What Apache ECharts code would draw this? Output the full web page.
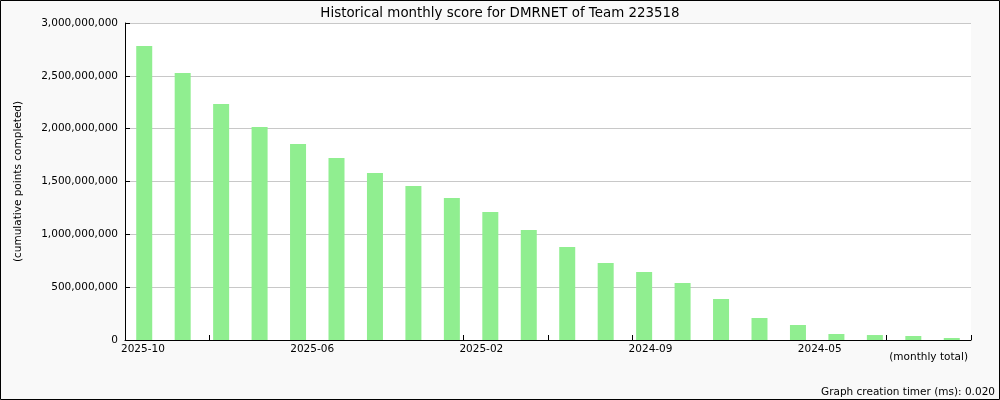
<!DOCTYPE html>
<html>
<head>
<meta charset="utf-8">
<script src="https://cdn.jsdelivr.net/npm/echarts@6/dist/echarts.min.js"></script>
<style>
html,body{margin:0;padding:0;background:#f9f9f9;}
#chart{width:1000px;height:400px;}
</style>
</head>
<body>
<div id="chart"></div>
<script>
const titleText = 'Historical monthly score for DMRNET of Team 223518';
const yAxisTitle = '(cumulative points completed)';
const xAxisTitle = '(monthly total)';
const footerText = 'Graph creation timer (ms): 0.020';

const months = ['2025-10','2025-09','2025-08','2025-07','2025-06','2025-05','2025-04','2025-03','2025-02','2025-01',
  '2024-12','2024-11','2024-10','2024-09','2024-08','2024-07','2024-06','2024-05','2024-04','2024-03','2024-02','2024-01'];
const scores = [2782000000, 2527000000, 2233000000, 2016000000, 1855000000, 1722000000, 1580000000, 1457000000,
  1344000000, 1211000000, 1041000000, 880000000, 729000000, 644000000, 539000000, 388000000, 208000000,
  142000000, 57000000, 47000000, 38000000, 19000000];
const yTicks = [0, 500000000, 1000000000, 1500000000, 2000000000, 2500000000, 3000000000];

const FONT = 'DejaVu Sans';
const chart = echarts.init(document.getElementById('chart'), null, {renderer: 'canvas'});
const n = months.length;
const tickStep = n / 10;

chart.setOption({
  backgroundColor: '#f9f9f9',
  animation: false,
  title: {
    text: titleText, left: 'center', top: 2,
    textStyle: {fontFamily: FONT, fontSize: 13.4, fontWeight: 'normal', color: '#000'}
  },
  grid: {left: 125, right: 29, top: 23, bottom: 60, show: true, backgroundColor: '#fff', borderWidth: 0},
  xAxis: [{
    type: 'category', data: months, boundaryGap: true,
    axisLine: {show: false}, axisTick: {show: false}, axisLabel: {show: false}
  }, {
    type: 'value', min: 0, max: n, interval: tickStep, position: 'bottom',
    axisLine: {show: true, onZero: false, lineStyle: {color: '#000', width: 1}},
    axisTick: {show: true, inside: true, length: 5, lineStyle: {color: '#000'}},
    splitLine: {show: false},
    axisLabel: {
      show: true, align: 'left', margin: 4, padding: [0, 0, 0, -4], showMinLabel: true, showMaxLabel: true,
      fontFamily: FONT, fontSize: 10.5, color: '#000',
      formatter: function (v) {
        const k = Math.round(v / tickStep);
        if (k % 2 !== 0) return '';
        const idx = Math.floor(k * tickStep + 1e-6);
        return idx < n && k < 10 ? months[idx] : '';
      }
    }
  }],
  yAxis: {
    type: 'value', min: yTicks[0], max: yTicks[yTicks.length - 1], interval: yTicks[1] - yTicks[0],
    name: yAxisTitle, nameLocation: 'middle', nameGap: 101, nameRotate: 90,
    nameTextStyle: {fontFamily: FONT, fontSize: 10.5, color: '#000'},
    axisLine: {show: true, lineStyle: {color: '#000', width: 1}},
    axisTick: {show: true, inside: true, length: 5, lineStyle: {color: '#000'}},
    splitLine: {show: true, lineStyle: {color: '#c8c8c8', width: 1}},
    axisLabel: {
      fontFamily: FONT, fontSize: 10.5, color: '#000', margin: 7,
      formatter: v => v.toLocaleString('en-US')
    }
  },
  series: [{
    type: 'bar', data: scores, xAxisIndex: 0, barWidth: 16,
    itemStyle: {color: '#90ee90'}
  }],
  graphic: [
    {type: 'text', right: 32, top: 352,
      style: {text: xAxisTitle, font: '10.5px "DejaVu Sans"', fill: '#000'}},
    {type: 'text', right: 5, top: 387,
      style: {text: footerText, font: '10.5px "DejaVu Sans"', fill: '#000'}},
    {type: 'rect', z: 100, silent: true,
      shape: {x: 0.5, y: 0.5, width: 999, height: 399},
      style: {fill: 'none', stroke: '#000', lineWidth: 1}}
  ]
});
</script>
</body>
</html>
